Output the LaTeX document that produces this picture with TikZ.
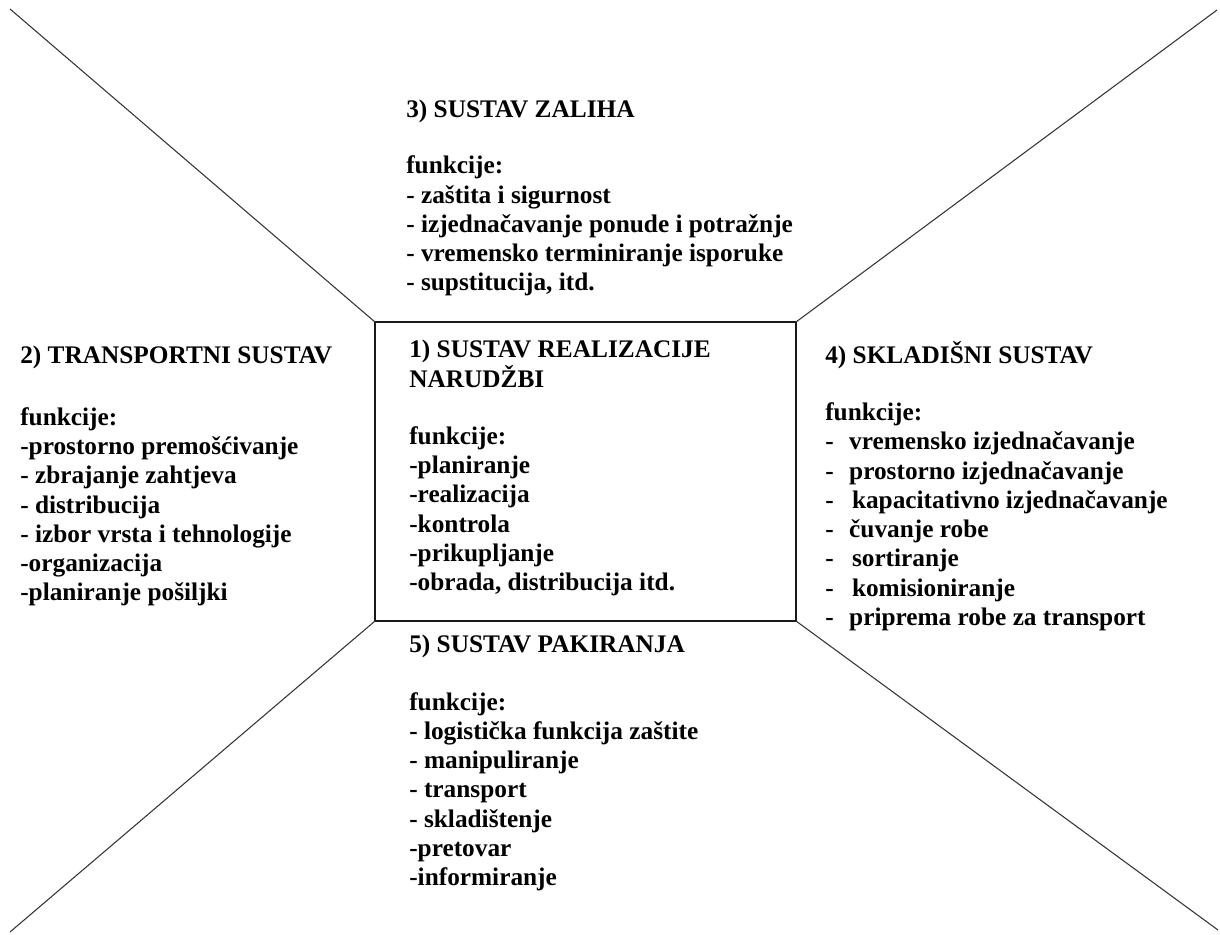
\documentclass[tikz,border=0pt]{standalone}
\usepackage{fontspec}
\setmainfont{Liberation Serif}
\tikzset{
  blok/.style={anchor=north west, align=left, inner sep=0pt, font=\bfseries\fontsize{18pt}{20.8pt}\selectfont},
  okvir/.style={line width=1pt, black!90},
  kosa/.style={line width=0.75pt, black!80},
}
\begin{document}
\begin{tikzpicture}[x=0.025cm, y=-0.025cm]
\useasboundingbox (0,0) rectangle (1220,934);
% vrhovi pravokutnika i rubne tocke
\coordinate (pgl) at (375,322);
\coordinate (pgd) at (796,322);
\coordinate (pdl) at (375,621);
\coordinate (pdd) at (796,621);
\coordinate (rgl) at (10,9);
\coordinate (rgd) at (1217,10);
\coordinate (rdl) at (10,932);
\coordinate (rdd) at (1218,930);
\draw[okvir] (pgl) rectangle (pdd);
\draw[kosa] (rgl) -- (pgl);
\draw[kosa] (rgd) -- (pgd);
\draw[kosa] (rdl) -- (pdl);
\draw[kosa] (rdd) -- (pdd);
% tekstovi
\node[blok] (narudzbe) at (409,340) {1) SUSTAV REALIZACIJE\\NARUDŽBI\\[20pt]
funkcije:\\-planiranje\\-realizacija\\-kontrola\\-prikupljanje\\-obrada, distribucija itd.};
\node[blok] (transport) at (20,346) {2) TRANSPORTNI SUSTAV\\[23pt]
funkcije:\\-prostorno premošćivanje\\- zbrajanje zahtjeva\\- distribucija\\- izbor vrsta i tehnologije\\-organizacija\\-planiranje pošiljki};
\node[blok] (zalihe) at (406,100) {3) SUSTAV ZALIHA\\[19pt]
funkcije:\\- zaštita i sigurnost\\- izjednačavanje ponude i potražnje\\- vremensko terminiranje isporuke\\- supstitucija, itd.};
\node[blok] (skladiste) at (825,341) {4) SKLADIŠNI SUSTAV\\[20pt]
funkcije:\\-\hspace{11pt}vremensko izjednačavanje\\-\hspace{11pt}prostorno izjednačavanje\\-\hspace{13pt}kapacitativno izjednačavanje\\-\hspace{11pt}čuvanje robe\\-\hspace{13pt}sortiranje\\-\hspace{13pt}komisioniranje\\-\hspace{11pt}priprema robe za transport};
\node[blok] (pakiranje) at (409,635) {5) SUSTAV PAKIRANJA\\[20pt]
funkcije:\\- logistička funkcija zaštite\\- manipuliranje\\- transport\\- skladištenje\\-pretovar\\-informiranje};
\end{tikzpicture}
\end{document}
